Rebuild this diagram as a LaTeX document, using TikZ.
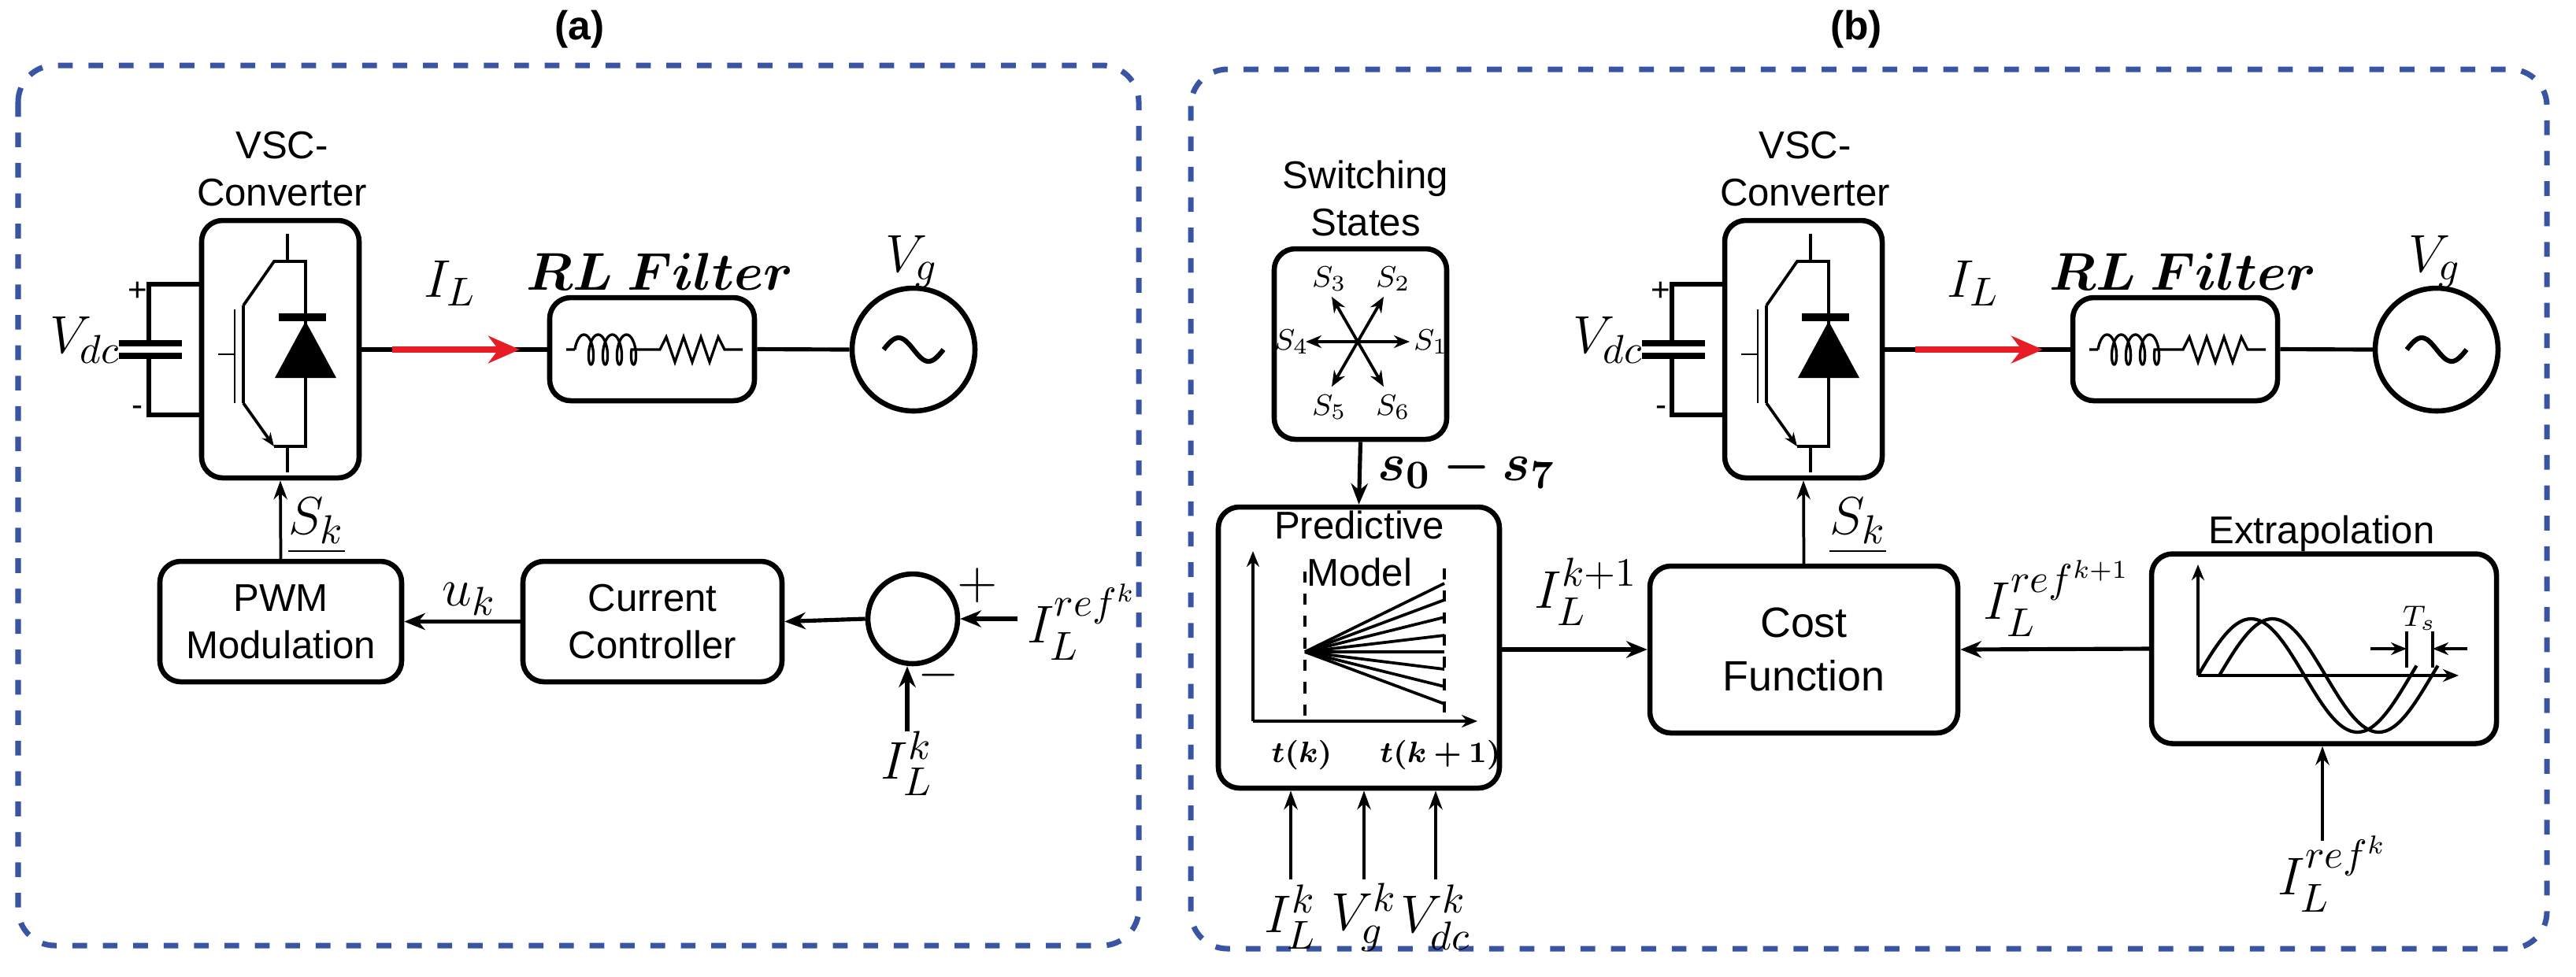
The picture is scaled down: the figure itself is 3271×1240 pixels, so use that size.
\documentclass[tikz,border=0pt]{standalone}
\usepackage{amsmath,bm}
\usepackage{fontspec}
\setmainfont{Liberation Sans}
\usetikzlibrary{arrows.meta}
\definecolor{frameblue}{RGB}{58,84,164}
\definecolor{ared}{RGB}{232,28,36}
\def\u{0.0075cm}
\begin{document}
\begin{tikzpicture}[x=0.0075cm,y=-0.0075cm,
  box/.style={draw,line width=1.4pt,rounded corners=0.2cm,inner sep=0pt},
  frame/.style={draw=frameblue,line width=1.5pt,rounded corners=0.35cm,dash pattern=on 0.14cm off 0.15cm},
  sig/.style={line width=1.1pt,-{Stealth[length=0.2cm,width=0.16cm]}},
  thin/.style={line width=0.8pt,-{Stealth[length=0.18cm,width=0.13cm]}},
  txt/.style={font=\fontsize{10.5}{12.8}\selectfont,align=center},
  big/.style={font=\fontsize{15}{18}\selectfont},
  wire/.style={line width=1.1pt}]
\useasboundingbox (0,0) rectangle (3271,1240);
% frames
\draw[frame] (23,83) rectangle (1446,1201);
\draw[frame] (1512,88) rectangle (3234,1205);
\node[font=\fontsize{11}{13}\selectfont\bfseries] (ta) at (736,37) {(a)};
\node[font=\fontsize{11}{13}\selectfont\bfseries] (tb) at (2357,37) {(b)};

% ---------- converter + filter + source, drawn twice ----------
\foreach \dx/\nm in {0/A,1934/B}{
\begin{scope}[shift={(\dx,0)}]
  \node[box,minimum width=200*\u,minimum height=327*\u] (vsc\nm) at (356,443.5) {};
  \node[txt] (vl\nm) at (358,215) {VSC-\\Converter};
  % switch
  \draw[line width=0.8pt] (365,297)--(365,332) (365,567)--(365,600);
  \draw[line width=0.8pt] (309,388)--(348,332)--(388,332)--(388,567)--(348,567);
  \draw[line width=0.8pt] (309,388)--(309,512);
  \draw[line width=0.8pt,-{Stealth[length=0.13cm,width=0.1cm]}] (309,512)--(348,567);
  \draw[line width=0.6pt] (298,393)--(298,512) (277,450)--(298,450);
  \fill (349,480)--(427,480)--(388,408)--cycle;
  \fill (354,398) rectangle (414,408);
  % capacitor
  \draw[line width=1.4pt] (256,361)--(189,361)--(189,436) (189,452)--(189,527)--(256,527);
  \draw[line width=1.8pt] (151,436)--(231,436) (151,452)--(231,452);
  \node[font=\fontsize{9}{10}\selectfont] (pl\nm) at (175,370) {+};
  \node[font=\fontsize{9}{10}\selectfont] (mi\nm) at (175,522) {-};
  \node[big] (vdc\nm) at (108,432) {$V_{dc}$};
  % filter
  \node[box,minimum width=260*\u,minimum height=131*\u] (rl\nm) at (828,443.5) {};
  \node[font=\fontsize{14}{16}\selectfont] (rlt\nm) at (838,345) {$\bm{RL\ Filter}$};
  \draw[line width=0.7pt] (719,444)--(730,444)
     plot[domain=0:1440,samples=160,smooth] ({730+18*(\x/360)-7*cos(\x)+7},{444-19*sin(\x)})
     --(814,444)--(838,444)--(846,428)--(857,460)--(868,428)--(879,460)--(890,428)--(901,460)--(912,428)--(920,444)--(943,444);
  % source
  \node[draw,circle,line width=1.4pt,minimum size=156*\u,inner sep=0pt] (src\nm) at (1160,444) {};
  \draw[line width=1.3pt] plot[domain=0:360,samples=50,smooth] ({1122+76*(\x/360)},{444-15*sin(\x)});
  \node[big] (vg\nm) at (1158,332) {$V_g$};
  \coordinate (oa\nm) at (456,444);
  \coordinate (ob\nm) at (698,444);
  \draw[wire] (oa\nm)--(ob\nm);
  \draw[wire] (rl\nm.east)--(src\nm.west);
  \coordinate (ra\nm) at (498,444);
  \coordinate (rb\nm) at (660,444);
  \draw[line width=1.6pt,ared,-{Stealth[length=0.3cm,width=0.26cm]}] (ra\nm)--(rb\nm);
  \node[big] (il\nm) at (572,360) {$I_L$};
\end{scope}}

% ---------- (a) lower ----------
\node[box,minimum width=307*\u,minimum height=153*\u,txt] (pwm) at (356.5,789.5) {PWM\\Modulation};
\node[box,minimum width=329*\u,minimum height=153*\u,txt] (cc) at (828.5,789.5) {Current\\Controller};
\node[draw,circle,line width=1.4pt,minimum size=114*\u,inner sep=0pt] (sum) at (1159,786) {};
\draw[thin] (pwm.north)--(vscA.south);
\node[big] (skA) at (402,668) {$\underline{S_k}$};
\draw[sig] (cc.west)--(pwm.east);
\node[big] (uk) at (596,761) {$u_k$};
\draw[sig] (sum.west)--(cc.east);
\coordinate (refa) at (1292,786);
\draw[sig] (refa)--(sum.east);
\node[big,anchor=west] (lrefa) at (1288,790) {$I_L^{ref^k}$};
\node[font=\fontsize{15}{18}\selectfont] (plus) at (1241,744) {$+$};
\node[font=\fontsize{15}{18}\selectfont] (minus) at (1192,858) {$-$};
\coordinate (ika) at (1152,929);
\draw[sig] (ika)--(ika |- sum.south);
\node[big] (likA) at (1152,970) {$I_L^k$};

% ---------- (b) ----------
\node[box,minimum width=219*\u,minimum height=242*\u] (sw) at (1727.5,437) {};
\node[txt] (swl) at (1734,252) {Switching\\States};
\coordinate (sc) at (1724,434);
\foreach \a/\i/\lx/\ly in {0/1/1817/434,60/2/1769/354,120/3/1688/354,180/4/1640/434,240/5/1688/517,300/6/1769/517}{
  \draw[line width=0.8pt,-{Stealth[length=0.15cm,width=0.12cm]}] (sc)--++({66*cos(\a)},{-66*sin(\a)});
  \node[font=\fontsize{8}{9}\selectfont] (s\i) at (\lx,\ly) {$S_\i$};
}
\node[box,minimum width=357*\u,minimum height=357*\u] (pred) at (1725.5,822.5) {};
\node[txt] (predl) at (1726,697) {Predictive\\Model};
\draw[sig] (sw.south)--(pred.north);
\node[big,anchor=west] (s07) at (1733,594) {$\bm{s_0-s_7}$};
% plot in predictive model
\draw[line width=0.9pt,-{Stealth[length=0.15cm,width=0.12cm]}] (1591,916)--(1591,700);
\draw[line width=0.9pt,-{Stealth[length=0.15cm,width=0.12cm]}] (1591,916)--(1876,916);
\draw[line width=0.8pt,dashed] (1657,726)--(1657,916) (1834,722)--(1834,916);
\foreach \yy in {741,762,784,807,828,850,872,894}{\draw[line width=0.8pt] (1657,828)--(1834,\yy);}
\node[font=\fontsize{8}{9}\selectfont] (tk) at (1653,959) {$\bm{t(k)}$};
\node[font=\fontsize{8}{9}\selectfont] (tk1) at (1829,959) {$\bm{t(k+1)}$};
% cost function
\node[box,minimum width=391*\u,minimum height=212*\u,font=\fontsize{11.5}{14.5}\selectfont,align=center] (cost) at (2290.5,825) {Cost\\Function};
\coordinate (pe) at (1904,825);
\draw[sig] (pe)--(cost.west);
\node[big] (ik1) at (2014,752) {$I_L^{k+1}$};
\draw[thin] (cost.north)--(vscB.south);
\node[big] (skB) at (2359,668) {$\underline{S_k}$};
% extrapolation
\node[box,minimum width=438*\u,minimum height=241*\u] (ext) at (2951,824) {};
\node[txt] (extl) at (2948,678) {Extrapolation};
\draw[sig] (ext.west)--(cost.east);
\node[big] (refk1) at (2612,760) {$I_L^{ref^{k+1}}$};
\draw[line width=0.9pt,-{Stealth[length=0.15cm,width=0.12cm]}] (2791,858)--(2791,717);
\draw[line width=0.9pt,-{Stealth[length=0.15cm,width=0.12cm]}] (2791,858)--(3122,858);
\draw[line width=0.9pt] plot[domain=0:370,samples=80,smooth] ({2791+270*(\x/360)},{858-72*sin(\x)});
\draw[line width=0.9pt] plot[domain=0:370,samples=80,smooth] ({2818+270*(\x/360)},{858-72*sin(\x)});
\draw[line width=0.8pt] (3056,802)--(3056,848) (3089,802)--(3089,848);
\coordinate (tsa) at (3010,824);
\coordinate (tsb) at (3133,824);
\coordinate (tsc) at (3056,824);
\coordinate (tsd) at (3089,824);
\draw[line width=0.8pt,-{Stealth[length=0.15cm,width=0.12cm]}] (tsa)--(tsc);
\draw[line width=0.8pt,-{Stealth[length=0.15cm,width=0.12cm]}] (tsb)--(tsd);
\node[font=\fontsize{8}{9}\selectfont] (ts) at (3072,785) {$T_s$};
\coordinate (refin) at (2949,1068);
\draw[thin] (refin)--(refin |- ext.south);
\node[big] (lrefb) at (2962,1110) {$I_L^{ref^k}$};
% predictive inputs
\foreach \xx/\nm/\tx in {1639/a/{I_L^k},1732/b/{V_g^k},1823/c/{V_{dc}^k}}{
  \coordinate (in\nm) at (\xx,1117);
  \draw[thin] (in\nm)--(in\nm |- pred.south);
  \node[big] (lin\nm) at (\xx,1165) {$\tx$};
}
\end{tikzpicture}
\end{document}
